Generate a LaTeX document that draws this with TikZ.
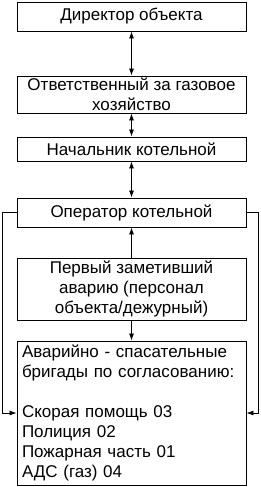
\documentclass[tikz,border=0pt]{standalone}
\usepackage{fontspec}
\setmainfont{Liberation Sans}
\usetikzlibrary{arrows.meta}
\begin{document}
\begin{tikzpicture}[x=1pt,y=-1pt,
  box/.style={draw=black,line width=0.9pt,minimum width=229pt,inner sep=0pt,align=center,
    font=\fontsize{17}{20}\selectfont},
  arr/.style={line width=0.8pt,-{Latex[length=7pt,width=5pt]}},
  darr/.style={line width=0.8pt,{Latex[length=7pt,width=5pt]}-{Latex[length=7pt,width=5pt]}}]
\useasboundingbox (0,0) rectangle (261,487);
\node[box,minimum height=29pt] (b1) at (131.5,16.5) {Директор объекта};
\node[box,minimum height=37pt] (b2) at (131.5,94.5) {Ответственный за газовое\\хозяйство};
\node[box,minimum height=24pt] (b3) at (131.5,149) {Начальник котельной};
\node[box,minimum height=29pt] (b4) at (131.5,212.5) {Оператор котельной};
\node[box,minimum height=62pt] (b5) at (131.5,289) {Первый заметивший\\аварию (персонал\\объекта/дежурный)};
\node[box,minimum height=144pt,align=left,text width=219pt,inner xsep=5pt] (b6) at (131.5,413)
  {Аварийно - спасательные\\бригады по согласованию:\\[20pt]Скорая помощь 03\\Полиция 02\\Пожарная часть 01\\АДС (газ) 04};
\draw[darr] (b1) -- (b2);
\draw[darr] (b2) -- (b3);
\draw[darr] (b3) -- (b4);
\draw[arr] (b5) -- (b4);
\draw[arr] (b5) -- (b6);
\draw[arr] (b4.west) -- ++(-14,0) |- (b6.west);
\draw[arr] (b4.east) -- ++(12,0) |- (b6.east);
\end{tikzpicture}
\end{document}
